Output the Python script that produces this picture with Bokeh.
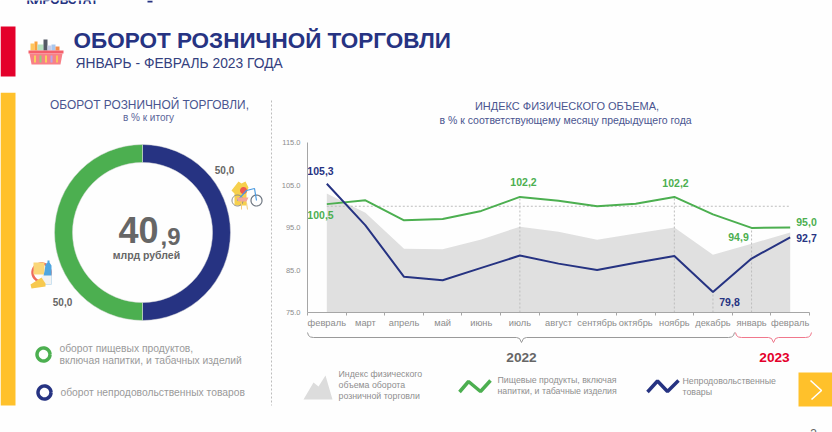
from math import pi
import numpy as np
from bokeh.embed import file_html
from bokeh.resources import INLINE
from bokeh.plotting import figure
from bokeh.layouts import column, row
from bokeh.core.properties import value
from bokeh.models import LinearAxis, FixedTicker, Range1d

months = ["февраль","март","апрель","май","июнь","июль","август","сентябрь","октябрь","ноябрь","декабрь","январь","февраль"]
food = [100.5,101.4,96.7,97.0,98.9,102.2,101.3,100.0,100.6,102.2,98.1,94.9,95.0]
nonfood = [105.3,95.5,83.4,82.6,85.5,88.4,86.5,85.0,86.7,88.3,79.8,87.7,92.7]
index_total = [103.0,98.5,90.0,89.9,92.2,95.2,94.0,92.1,93.6,95.0,88.6,91.2,93.8]
y_ticks = [75,85,95,105,115]
shares = [50.0,50.0]   # non-food, food

NAVY="#263382"; GREEN="#4CAF50"; RED="#E4002B"; YEL="#FFC12B"; GRAY="#A6A6A6"; TXT="#8C8C8C"; DARK="#666666"; AREA="#E0E0E0"
FONT="Liberation Sans"
W,H=832,432
HEAD_H=92; LEFT_W=272
CONV={}

def panel(x0,y0,w,h,xr,yr):
    p=figure(width=w,height=h,output_backend="svg",toolbar_location=None,x_range=Range1d(*xr),y_range=Range1d(*yr),
             x_axis_location=None,y_axis_location=None,min_border=0,outline_line_color=None,background_fill_color="#FEFEFE",border_fill_color="#FEFEFE")
    p.grid.visible=False
    sx=(xr[1]-xr[0])/w; sy=(yr[1]-yr[0])/h
    CONV[id(p)]=(lambda a: xr[0]+(a-x0)*sx, lambda b: yr[1]-(b-y0)*sy)
    return p

def T(p,x,y,s,size,color,bold=False,align="left"):
    fx,fy=CONV[id(p)]
    p.text([fx(x)],[fy(y)],text=[s],text_font=value(FONT),text_font_size=f"{size}px",text_color=color,
           text_font_style="bold" if bold else "normal",text_align=align,text_baseline="middle")

def POLY(p,pts,color):
    fx,fy=CONV[id(p)]
    p.patch([fx(a) for a,b in pts],[fy(b) for a,b in pts],fill_color=color,line_color=None)

def LINE(p,pts,color,w=1,dash="solid"):
    fx,fy=CONV[id(p)]
    p.line([fx(a) for a,b in pts],[fy(b) for a,b in pts],line_color=color,line_width=w,line_dash=dash)

def BOX(p,x1,y1,x2,y2,color):
    POLY(p,[(x1,y1),(x2,y1),(x2,y2),(x1,y2)],color)

def DOT(p,x,y,r,color,fill=True,w=1):
    t=np.linspace(0,2*pi,40)
    pts=[(x+r*np.cos(a),y+r*np.sin(a)) for a in t]
    if fill: POLY(p,pts,color)
    else: LINE(p,pts,color,w)

# ---------- header ----------
h=panel(0,0,W,HEAD_H,(0,W),(0,HEAD_H))
T(h,26,-1,"КИРОВСТАТ",12,NAVY,True)
BOX(h,147,0,152,2,NAVY)
BOX(h,0,26,15,76,RED)
T(h,73,40,"ОБОРОТ  РОЗНИЧНОЙ  ТОРГОВЛИ",22.5,NAVY,True)
T(h,75,63,"ЯНВАРЬ - ФЕВРАЛЬ 2023 ГОДА",13.8,"#34407F")
# basket icon
BOX(h,30,43,34,50,"#FFC65C"); BOX(h,34,41,37,50,"#F9A23C"); BOX(h,37,44,43,50,"#B7E0C0")
BOX(h,43,39,47,50,"#555A66"); BOX(h,47,45,51,50,"#C9CCE8"); BOX(h,51,44,55,50,"#A9C7EE"); BOX(h,55,46,59,50,"#F58B4A")
BOX(h,28,50,63,53,"#F45F6B")
POLY(h,[(29,53),(62,53),(60,64),(31,64)],"#F88088")
for i,c in enumerate(["#F7D25C","#8FD07A","#F7D25C","#B9A5E8","#F7C25C"]):
    BOX(h,33.5+i*5.5,55,35.5+i*5.5,62,c)

# ---------- left panel: donut ----------
R=88.0
l=panel(0,HEAD_H,LEFT_W,H-HEAD_H,((0-142)/R,(LEFT_W-142)/R),((232-H)/R,(232-HEAD_H)/R))
BOX(l,0,92,15,405,YEL)
LINE(l,[(271,100),(271,405)],"#BDBDBD",1,"2 2")
T(l,149,104,"ОБОРОТ РОЗНИЧНОЙ ТОРГОВЛИ,",11.9,"#4A5590",align="center")
T(l,148,117,"в % к итогу",10,"#5A6599",align="center")
total=sum(shares)
ang=np.cumsum([0]+[s/total*2*pi for s in shares])
l.annular_wedge(x=[0,0],y=[0,0],inner_radius=70/R,outer_radius=1.0,
    start_angle=[pi/2-a for a in ang[1:]],end_angle=[pi/2-a for a in ang[:-1]],
    fill_color=[NAVY,GREEN],line_color="#DDDDDD",line_width=0.5)
T(l,118,229,"40",36,DARK,True)
T(l,160,236,",9",24,DARK,True)
T(l,146,254,"млрд рублей",10.5,DARK,True,"center")
T(l,224,169,f"{shares[0]:.1f}".replace(".",","),10,DARK,True,"center")
T(l,62,301,f"{shares[1]:.1f}".replace(".",","),10,DARK,True,"center")
DOT(l,43,354,6.5,GREEN,False,3.5)
DOT(l,44,392,6.5,NAVY,False,3.5)
T(l,59,348,"оборот пищевых  продуктов,",10.3,"#9A9A9A")
T(l,59,360,"включая напитки,  и табачных  изделий",10.3,"#9A9A9A")
T(l,60,392,"оборот непродовольственных  товаров",10.3,"#9A9A9A")
# goods icon
POLY(l,[(238,181),(241,183),(245,181),(248,187),(246,193),(246,205),(234,205),(234,193),(231,190)],"#F6D04D")
DOT(l,243,190,3.5,"#EE5A4F")
DOT(l,237,200,5.5,"#8A8A8A",False,1)
DOT(l,256,200,5.5,"#6E7680",False,1.2)
LINE(l,[(237,200),(246,190),(254,188),(256,200)],"#4C9BE0",1.2)
POLY(l,[(236,197),(248,197),(246,201),(238,201)],"#F4A79A")
LINE(l,[(241,202),(241,209)],"#F5CE7A",1); LINE(l,[(246,202),(247,209)],"#F5CE7A",1)
# food icon
DOT(l,41,272,9,"#EE6A5C",False,2.5)
BOX(l,33,262,44,274,"#FAD678")
POLY(l,[(44,271),(45,264),(47,262),(47,260),(49,260),(49,262),(51,265),(51,284),(41,284)],"#4FA6E0")
BOX(l,41,275,51,284,"#F2F2F2")
POLY(l,[(30,284),(41,277),(45,283),(45,286),(31,288)],"#F7C94F")

# ---------- right panel: chart ----------
px_x=(809-307)/13.0; px_y=(312-142)/40.0
xr=(0.5-(307-LEFT_W)/px_x, 0.5+(W-307)/px_x)
yr=(75-(H-312)/px_y, 75+(312-HEAD_H)/px_y)
p=panel(LEFT_W,HEAD_H,W-LEFT_W,H-HEAD_H,xr,yr)
x=list(range(1,14))
p.varea(x=x,y1=[75]*13,y2=index_total,fill_color=AREA)
for i in [5,9,10,11]:
    top=nonfood[i] if i==10 else food[i]
    p.line([x[i],x[i]],[75,top],line_color="#BDBDBD",line_width=1,line_dash="2 2")
p.line([1,13],[100,100],line_color="#BDBDBD",line_width=1,line_dash="2 2")
p.line(x,food,line_color=GREEN,line_width=2)
p.line(x,nonfood,line_color=NAVY,line_width=2)

yax=LinearAxis(fixed_location=0.5,ticker=FixedTicker(ticks=y_ticks),bounds=(75,115),
    major_label_overrides={t:f"{t}.0" for t in y_ticks},
    axis_line_color=GRAY,major_tick_line_color=None,minor_tick_line_color=None,major_tick_out=0,major_tick_in=0,
    major_label_text_font=FONT,major_label_text_font_size="7.5px",major_label_text_color=TXT,major_label_standoff=7)
p.add_layout(yax,"left")
xlab=LinearAxis(fixed_location=75,ticker=FixedTicker(ticks=x,minor_ticks=[i+0.5 for i in range(14)]),bounds=(0.5,13.5),
    major_label_overrides={i+1:m for i,m in enumerate(months)},
    axis_line_color=GRAY,major_tick_line_color=None,minor_tick_line_color=GRAY,minor_tick_out=3,minor_tick_in=0,major_tick_out=0,major_tick_in=0,
    major_label_text_font=FONT,major_label_text_font_size="9.3px",major_label_text_color=TXT,major_label_standoff=2)
p.add_layout(xlab,"below")

T(p,568,105,"ИНДЕКС ФИЗИЧЕСКОГО  ОБЪЕМА,",11,"#4A5590",align="center")
T(p,568,119,"в % к соответствующему  месяцу предыдущего  года",10.5,"#4A5590",align="center")
def fmt(v): return f"{v:.1f}".replace(".",",")
for px,py,v,c,b in [(320,170,nonfood[0],NAVY,True),(320,214,food[0],GREEN,True),(523,181,food[5],GREEN,True),(675,182,food[9],GREEN,True),
                  (738,236,food[11],GREEN,True),(806,221,food[12],GREEN,True),(806,237,nonfood[12],NAVY,True),(729,301,nonfood[10],NAVY,True)]:
    T(p,px,py,fmt(v),10.5,c,b,"center")

def brace(a,tip,b,color):
    y0,y1,y2=332,337,342
    pts=[(a,y0),(a+1,y0+3),(a+3,y1-0.5),(a+6,y1),(tip-5,y1),(tip-2,y1+1),(tip,y2),(tip+2,y1+1),(tip+5,y1),(b-6,y1),(b-3,y1-0.5),(b-1,y0+3),(b,y0)]
    LINE(p,pts,color,1)
brace(307,521,734,"#9A9A9A")
brace(735,773,811,"#F0788C")
T(p,521,357,"2022",13.7,DARK,True,"center")
T(p,774,357,"2023",13.7,RED,True,"center")

POLY(p,[(303,399),(313,382),(318,386),(325,375),(332,399)],"#DCDCDC")
for yy,s in [(373.5,"Индекс физического"),(384,"объема оборота"),(395,"розничной торговли")]:
    T(p,338,yy,s,8.8,"#8F8F8F")
LINE(p,[(459,391.5),(468,381),(480,391),(490,380)],GREEN,3.5)
T(p,497,379,"Пищевые продукты,  включая",8.8,"#8F8F8F")
T(p,497,390,"напитки, и табачные  изделия",8.8,"#8F8F8F")
LINE(p,[(647,391.5),(657,380.5),(667,391),(678,380)],NAVY,3.5)
T(p,682,380,"Непродовольственные",8.8,"#8F8F8F")
T(p,682,391,"товары",8.8,"#8F8F8F")
BOX(p,798,372,832,406,YEL)
LINE(p,[(810,380),(821,390),(811,399)],"#FFFFFF",1.6)
T(p,813,433,"3",12,"#666666",align="center")

root=column(h,row(l,p,spacing=0),spacing=0)
open("out.html","w").write(file_html(root,INLINE))
